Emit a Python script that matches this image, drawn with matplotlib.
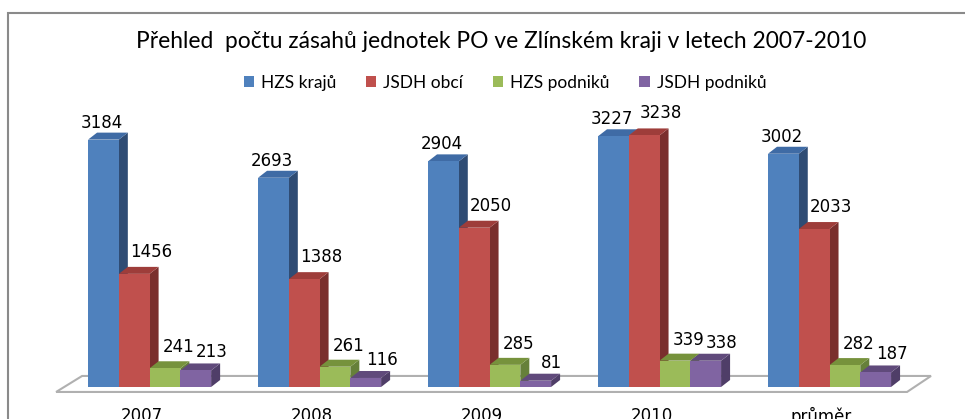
import matplotlib
matplotlib.use('Agg')
import matplotlib.pyplot as plt
from matplotlib.patches import Polygon, Rectangle, Patch

roky = ['2007', '2008', '2009', '2010', 'průměr']
hzs_kraju = [3184, 2693, 2904, 3227, 3002]
jsdh_obci = [1456, 1388, 2050, 3238, 2033]
hzs_podniku = [241, 261, 285, 339, 282]
jsdh_podniku = [213, 116, 81, 338, 187]
nazvy = ['HZS krajů', 'JSDH obcí', 'HZS podniků', 'JSDH podniků']
titulek = 'Přehled  počtu zásahů jednotek PO ve Zlínském kraji v letech 2007-2010'

# barvy: celo / bok / vrch
barvy = ['#4F81BD', '#C0504D', '#9BBB59', '#8064A2']
boky = ['#2F4C74', '#7A2F2D', '#66803A', '#4F3E68']
vrchy = ['#3F6BA5', '#9E3D3A', '#76923C', '#604A7B']
# posun popisku (body) pro kazdou radu
posuny = [(-1.4, 8.6), (12.2, 12.2), (10.0, 11.5), (11.5, 9.4)]

rady = [hzs_kraju, jsdh_obci, hzs_podniku, jsdh_podniku]

W, H = 965, 419
fig = plt.figure(figsize=(W / 100, H / 100), dpi=100)
ax = fig.add_axes([0, 0, 1, 1])
ax.set_xlim(-0.88, 4.797)
ax.set_ylim(-412, 4981)
ax.axis('off')

sirka = 0.181   # sirka sloupce
hx = 0.053      # hloubka v x
hy = 90         # hloubka v y

# ram grafu
fig.add_artist(Rectangle((8 / W, -0.1), 1.2, (H - 13) / H + 0.1,
                         transform=fig.transFigure, fill=False,
                         edgecolor='#8a8a8a', lw=1.5))

# podlaha
n = len(roky)
podlaha = Polygon([(-0.55, -64), (n - 1 + 0.456, -64),
                   (n - 1 + 0.597, 142), (-0.397, 142)],
                  closed=True, facecolor='white', edgecolor='#b0b0b0',
                  lw=1.5, zorder=1)
ax.add_patch(podlaha)

z = 2
for i in range(n):
    for j, rada in enumerate(rady):
        v = rada[i]
        x0 = i - 2 * sirka + j * sirka
        x1 = x0 + sirka
        # bok
        ax.add_patch(Polygon([(x1, 0), (x1 + hx, hy), (x1 + hx, v + hy), (x1, v)],
                             closed=True, facecolor=boky[j], edgecolor='none', zorder=z))
        # vrch
        ax.add_patch(Polygon([(x0, v), (x1, v), (x1 + hx, v + hy), (x0 + hx, v + hy)],
                             closed=True, facecolor=vrchy[j], edgecolor='none', zorder=z))
        # celo
        ax.bar(x0, v, width=sirka, align='edge', color=barvy[j], zorder=z + 0.5)
        z += 1
        ax.annotate(str(v), xy=(x0 + sirka / 2, v), xytext=posuny[j],
                    textcoords='offset points', ha='center', va='baseline',
                    fontsize=12, family='DejaVu Sans', color='black', zorder=100)

for i, rok in enumerate(roky):
    ax.text(i - 0.047, -257, rok, ha='center', va='top', fontsize=12,
            family='DejaVu Sans', color='black')

pismo = ['Liberation Sans Narrow', 'Lato', 'DejaVu Sans']
fig.text(501 / W, 1 - 41 / H, titulek, ha='center', va='center',
         fontsize=16.4, family=pismo, color='black')

handles = [Patch(facecolor=c, edgecolor='none') for c in barvy]
fig.legend(handles, nazvy, loc='center', bbox_to_anchor=(505 / W, 1 - 83 / H),
           ncol=4, frameon=False, handlelength=0.6, handleheight=0.6,
           handletextpad=0.4, columnspacing=1.7,
           prop={'family': pismo, 'size': 12.5})

plt.savefig('out.png', dpi=100)
